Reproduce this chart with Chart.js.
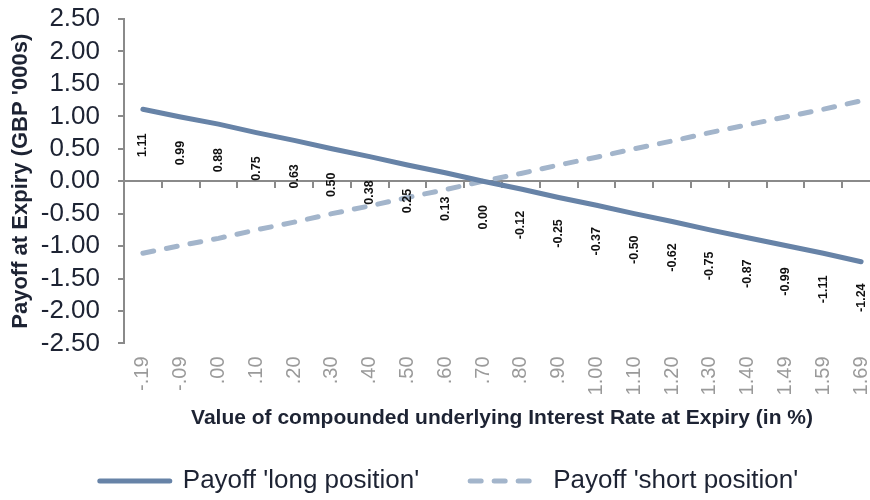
<!DOCTYPE html>
<html>
<head>
<meta charset="utf-8">
<script src="https://cdn.jsdelivr.net/npm/chart.js@4"></script>
<style>
  html, body { margin: 0; padding: 0; background: #fff; }
  #wrap { width: 870px; height: 500px; overflow: hidden; position: relative; }
  canvas { display: block; }
</style>
</head>
<body>
<div id="wrap"><canvas id="payoff-chart" width="880" height="500"></canvas></div>
<script>
// 데이터
const rateLabels = ['-.19', '-.09', '.00', '.10', '.20', '.30', '.40', '.50', '.60', '.70',
  '.80', '.90', '1.00', '1.10', '1.20', '1.30', '1.40', '1.49', '1.59', '1.69'];
const longPayoff = [1.11, 0.99, 0.88, 0.75, 0.63, 0.50, 0.38, 0.25, 0.13, 0.00,
  -0.12, -0.25, -0.37, -0.50, -0.62, -0.75, -0.87, -0.99, -1.11, -1.24];
const shortPayoff = [-1.11, -0.99, -0.88, -0.75, -0.63, -0.50, -0.38, -0.25, -0.13, 0.00,
  0.12, 0.25, 0.37, 0.50, 0.62, 0.75, 0.87, 0.99, 1.11, 1.24];

const FONT = "'Liberation Sans', Arial, sans-serif";
const TEXT = '#1d2333';
const AXIS = '#8a8a8a';

// 값 라벨 (long position)
const valueLabels = {
  id: 'valueLabels',
  afterDatasetsDraw(chart) {
    const ctx = chart.ctx;
    const meta = chart.getDatasetMeta(0);
    ctx.save();
    ctx.font = `bold 12.5px ${FONT}`;
    ctx.fillStyle = '#111';
    ctx.textAlign = 'center';
    ctx.textBaseline = 'middle';
    meta.data.forEach((pt, i) => {
      ctx.save();
      ctx.translate(pt.x, pt.y + 36);
      ctx.rotate(-Math.PI / 2);
      ctx.fillText(longPayoff[i].toFixed(2), 0, 0);
      ctx.restore();
    });
    ctx.restore();
  }
};

new Chart(document.getElementById('payoff-chart'), {
  type: 'line',
  data: {
    labels: rateLabels,
    datasets: [
      {
        label: "Payoff 'long position'",
        data: longPayoff,
        borderColor: '#6783a7',
        backgroundColor: '#6783a7',
        borderWidth: 5,
        borderCapStyle: 'round',
        pointRadius: 0,
        tension: 0
      },
      {
        label: "Payoff 'short position'",
        data: shortPayoff,
        borderColor: '#a3b5cb',
        backgroundColor: '#a3b5cb',
        borderWidth: 5,
        borderDash: [11, 13],
        borderCapStyle: 'round',
        pointRadius: 0,
        tension: 0
      }
    ]
  },
  options: {
    responsive: false,
    animation: false,
    layout: { padding: { top: 19, left: 18, right: 0, bottom: -4 } },
    plugins: {
      tooltip: { enabled: false },
      legend: {
        position: 'bottom',
        labels: {
          usePointStyle: true,
          pointStyle: 'line',
          pointStyleWidth: 70,
          boxHeight: 26,
          padding: 51,
          color: TEXT,
          font: { family: FONT, size: 26 },
          generateLabels(chart) {
            const items = Chart.defaults.plugins.legend.labels.generateLabels(chart);
            items.forEach((item, i) => {
              const ds = chart.data.datasets[i];
              item.lineDash = ds.borderDash || [];
              item.lineCap = 'round';
              item.lineWidth = ds.borderWidth;
              item.strokeStyle = ds.borderColor;
            });
            return items;
          }
        }
      }
    },
    scales: {
      x: {
        type: 'category',
        offset: true,
        afterFit(scale) { scale.paddingLeft = 0; scale.paddingRight = 0; },
        grid: { display: false, drawTicks: false },
        border: { display: false },
        ticks: {
          autoSkip: false,
          minRotation: 90,
          maxRotation: 90,
          padding: 13,
          color: '#9a9a9a',
          font: { family: FONT, size: 20 }
        },
        title: {
          display: true,
          text: 'Value of compounded underlying Interest Rate at Expiry (in %)',
          color: TEXT,
          font: { family: FONT, size: 21, weight: 'bold' },
          padding: { top: -3, bottom: -13.6 }
        }
      },
      x2: {
        type: 'category',
        labels: rateLabels,
        position: { y: 0 },
        offset: true,
        grid: { display: true, drawOnChartArea: false, drawTicks: true, tickLength: 6, offset: true, color: AXIS, lineWidth: 2 },
        border: { display: true, color: AXIS, width: 2 },
        ticks: { display: false }
      },
      y: {
        min: -2.5,
        max: 2.5,
        afterFit(scale) {
          scale.width = 106;
          scale.paddingTop = 0;
          scale.paddingBottom = 0;
        },
        grid: { drawOnChartArea: false, drawTicks: true, tickLength: 6, color: AXIS, lineWidth: 2 },
        border: { display: true, color: AXIS, width: 2 },
        ticks: {
          stepSize: 0.5,
          autoSkip: false,
          padding: 18,
          color: TEXT,
          font: { family: FONT, size: 26 },
          callback: v => v.toFixed(2)
        },
        title: {
          display: true,
          text: "Payoff at Expiry (GBP '000s)",
          color: TEXT,
          font: { family: FONT, size: 22, weight: 'bold' },
          padding: { top: -10, bottom: 6 }
        }
      }
    }
  },
  plugins: [valueLabels]
});
</script>
</body>
</html>
